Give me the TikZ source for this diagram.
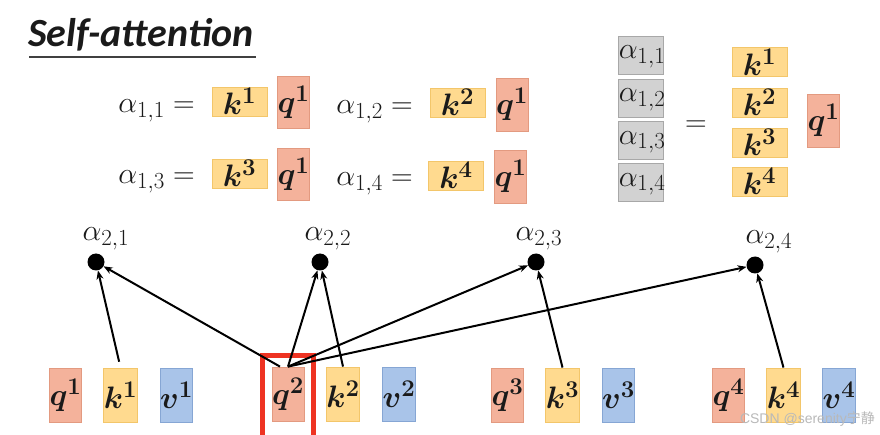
\RequirePackage{fix-cm}
\documentclass[tikz,border=0pt]{standalone}
\usepackage{bm}
\usepackage{fontspec}
\newfontfamily\titlefont{Carlito}
\newfontfamily\cjk{Noto Sans CJK SC}
\newfontfamily\wmfont{Liberation Sans}
\usetikzlibrary{arrows.meta}
\DeclareMathSizes{30}{30}{23}{17}
\DeclareMathSizes{31}{31}{24}{18}
\DeclareMathSizes{32}{32}{24}{18}
\definecolor{qfill}{HTML}{F4B29B}
\definecolor{qdraw}{HTML}{E39A80}
\definecolor{kfill}{HTML}{FFDA8F}
\definecolor{kdraw}{HTML}{F3C66A}
\definecolor{vfill}{HTML}{A9C4E9}
\definecolor{vdraw}{HTML}{86A6D4}
\definecolor{afill}{HTML}{D2D2D2}
\definecolor{adraw}{HTML}{A8A8A8}
\definecolor{hl}{HTML}{EE3322}
\definecolor{txt}{HTML}{1A1A1A}
\begin{document}
\begin{tikzpicture}[x=1pt,y=-1pt,
  every node/.style={text=txt},
  bx/.style={inner sep=0pt, line width=0.8pt},
  qb/.style={bx, draw=qdraw, fill=qfill},
  kb/.style={bx, draw=kdraw, fill=kfill},
  vb/.style={bx, draw=vdraw, fill=vfill},
  ab/.style={bx, draw=adraw, fill=afill, minimum width=45pt, minimum height=38pt},
  tall/.style={minimum width=29pt, minimum height=54pt},
  wide/.style={minimum width=55pt, minimum height=29pt},
  big/.style={font=\fontsize{31}{31}\selectfont},
  eq/.style={font=\fontsize{30}{30}\selectfont, inner sep=0pt},
  dot/.style={circle, fill=black, minimum size=17pt, inner sep=0pt},
  lab/.style={font=\fontsize{30}{30}\selectfont, inner sep=0pt},
  arr/.style={-{Stealth[length=9pt,width=7pt]}, line width=2pt, black}
]
\useasboundingbox (0,0) rectangle (880,435);
\fill[white] (0,0) rectangle (880,435);

% title
\node[anchor=base west, inner sep=0pt, font=\titlefont\fontsize{40}{40}\selectfont\bfseries\itshape] (title) at (28,47) {Self-attention};
\draw[line width=1.6pt, black!75] (29,57) -- (256,57);

% equations row 1
\node[eq, anchor=base east] (e11) at (195,113) {$\alpha_{1,1} =$};
\node[kb, wide, big] (e11k) at (239.5,101.5) {$\bm{k^1}$};
\node[qb, minimum width=29pt, minimum height=52pt, big] (e11q) at (293.5,102) {$\bm{q^1}$};
\node[eq, anchor=base east] (e12) at (413,114) {$\alpha_{1,2} =$};
\node[kb, wide, big] (e12k) at (457.5,102.5) {$\bm{k^2}$};
\node[qb, minimum width=29pt, minimum height=53pt, big] (e12q) at (512,104.5) {$\bm{q^1}$};
% row 2
\node[eq, anchor=base east] (e13) at (195,184) {$\alpha_{1,3} =$};
\node[kb, wide, big] (e13k) at (239.5,173.5) {$\bm{k^3}$};
\node[qb, minimum width=29pt, minimum height=52pt, big] (e13q) at (293.5,174) {$\bm{q^1}$};
\node[eq, anchor=base east] (e14) at (413,186) {$\alpha_{1,4} =$};
\node[kb, wide, big] (e14k) at (456,175.5) {$\bm{k^4}$};
\node[qb, minimum width=29pt, minimum height=53pt, big] (e14q) at (510.5,176.5) {$\bm{q^1}$};

% right: vector form
\node[ab] (a1) at (640.5,55) {};
\node[ab] (a2) at (640.5,98) {};
\node[ab] (a3) at (640.5,140.5) {};
\node[ab] (a4) at (640.5,182.5) {};
\node[lab, anchor=west] at ([xshift=1pt,yshift=-2pt]a1.west) {$\alpha_{1,1}$};
\node[lab, anchor=west] at ([xshift=1pt,yshift=-2pt]a2.west) {$\alpha_{1,2}$};
\node[lab, anchor=west] at ([xshift=1pt,yshift=-2pt]a3.west) {$\alpha_{1,3}$};
\node[lab, anchor=west] at ([xshift=1pt,yshift=-2pt]a4.west) {$\alpha_{1,4}$};
\node[eq] (veq) at (696,126) {$=$};
\node[kb, wide, big] (vk1) at (759.5,62) {$\bm{k^1}$};
\node[kb, wide, big] (vk2) at (759.5,102.5) {$\bm{k^2}$};
\node[kb, wide, big] (vk3) at (759.5,142.5) {$\bm{k^3}$};
\node[kb, wide, big] (vk4) at (759.5,181.5) {$\bm{k^4}$};
\node[qb, minimum width=29pt, minimum height=53pt, big] (vq) at (823.5,120.5) {$\bm{q^1}$};

% bottom row
\node[qb, tall, big] (q1) at (65.5,395) {$\bm{q^1}$};
\node[kb, tall, big] (k1) at (120.5,395) {$\bm{k^1}$};
\node[vb, tall, big] (v1) at (176.5,395) {$\bm{v^1}$};
\node[qb, tall, big] (q2) at (288,394) {$\bm{q^2}$};
\node[kb, tall, big] (k2) at (343,394) {$\bm{k^2}$};
\node[vb, tall, big] (v2) at (399,394) {$\bm{v^2}$};
\node[qb, tall, big] (q3) at (507.5,395) {$\bm{q^3}$};
\node[kb, tall, big] (k3) at (562.5,395) {$\bm{k^3}$};
\node[vb, tall, big] (v3) at (618.5,395) {$\bm{v^3}$};
\node[qb, tall, big] (q4) at (728.5,395) {$\bm{q^4}$};
\node[kb, tall, big] (k4) at (783.5,395) {$\bm{k^4}$};
\node[vb, tall, big] (v4) at (839,395) {$\bm{v^4}$};

% highlight
\node[draw=hl, line width=5.5pt, minimum width=51pt, minimum height=90pt, inner sep=0pt] (hl) at (288,400.5) {};

% dots and labels
\node[dot] (d1) at (96,262) {};
\node[dot] (d2) at (320,262) {};
\node[dot] (d3) at (536,262) {};
\node[dot] (d4) at (755,265) {};
\node[lab] (l1) at (106,239) {$\alpha_{2,1}$};
\node[lab] (l2) at (328,239) {$\alpha_{2,2}$};
\node[lab] (l3) at (539,239) {$\alpha_{2,3}$};
\node[lab] (l4) at (769,242) {$\alpha_{2,4}$};

% arrows
\draw[arr, shorten <=6pt] (k1.north) -- (d1);
\draw[arr] ([xshift=-8pt]q2.north) -- (d1);
\draw[arr] (q2.north) -- (d2);
\draw[arr] (k2.north) -- (d2);
\draw[arr] (q2.north) -- (d3);
\draw[arr] (q2.north) -- (d4);
\draw[arr] (k3.north) -- (d3);
\draw[arr] (k4.north) -- (d4);

% watermark
\node[anchor=east, inner sep=0pt, text=gray!55, font=\wmfont\fontsize{14}{14}\selectfont] (wm) at (875,419) {CSDN @serenity{\cjk 宁静}};
\end{tikzpicture}
\end{document}
